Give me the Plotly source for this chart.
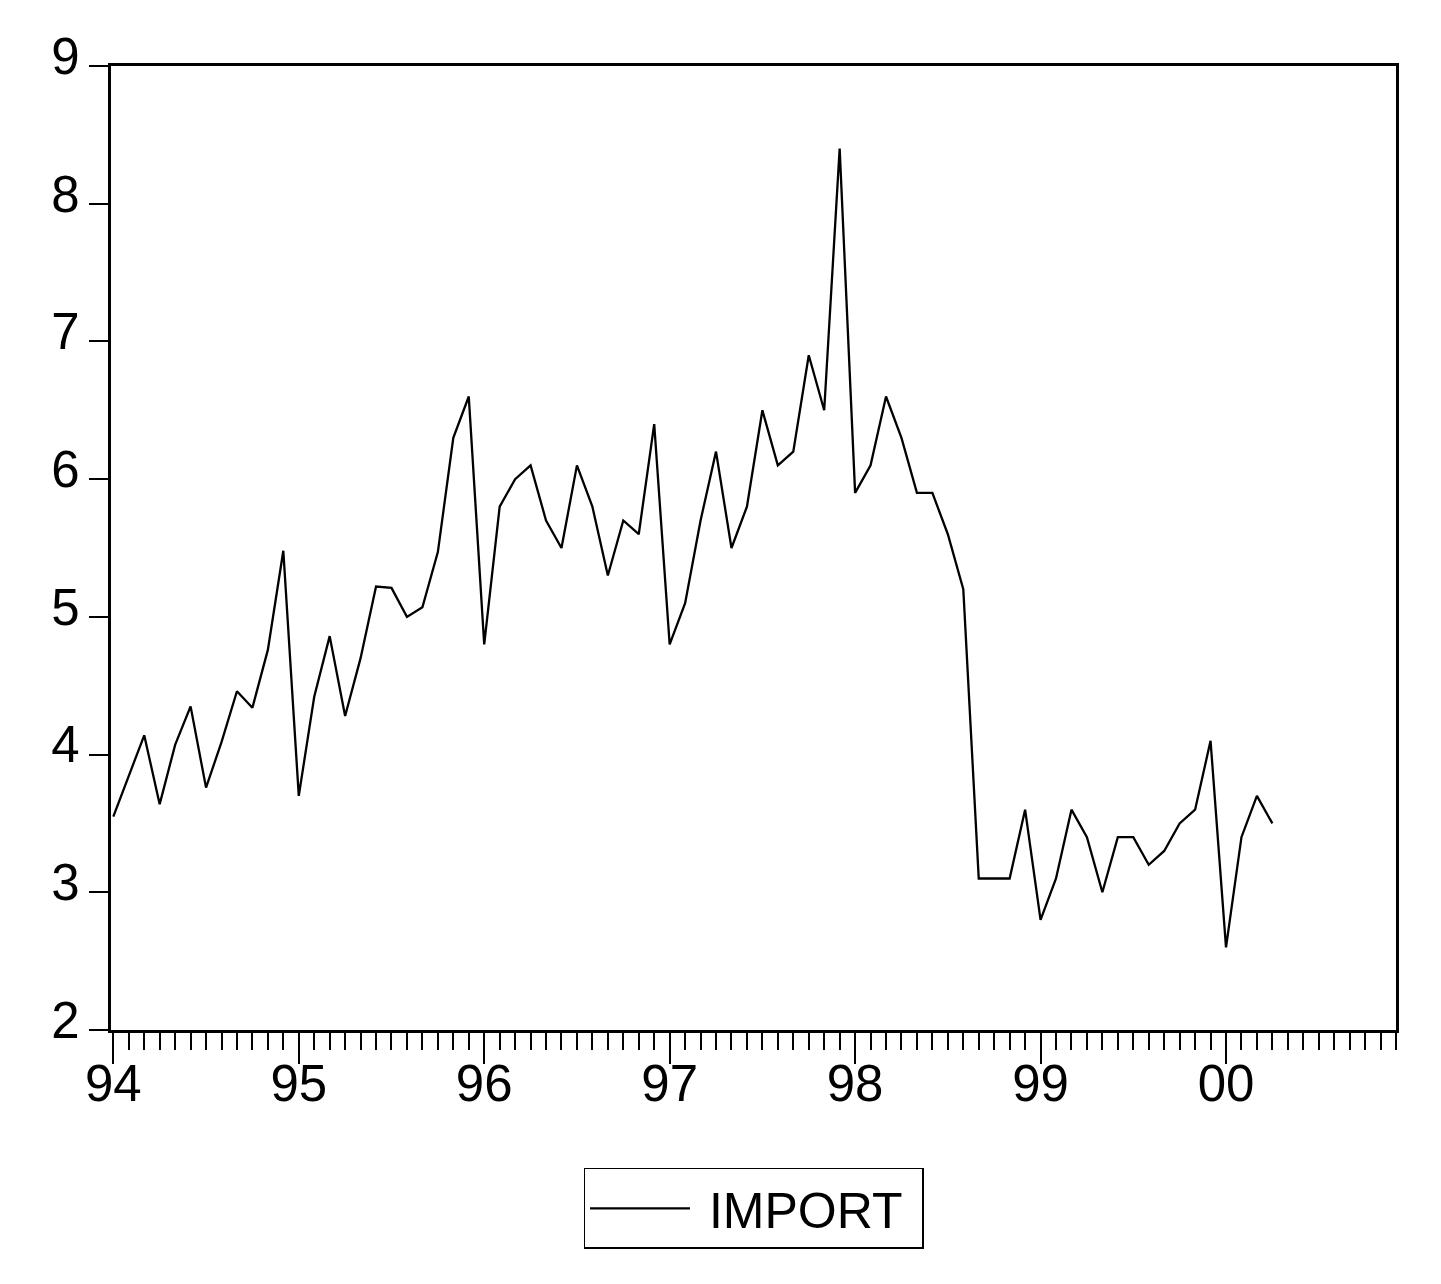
import pandas as pd
import plotly.graph_objects as go

# Monthly IMPORT series, Jan 1994 .. Apr 2000
start_month = "1994-01"
import_values = [
    3.55, 3.85, 4.14, 3.64, 4.07, 4.35, 3.76, 4.09, 4.46, 4.34, 4.76, 5.48,   # 1994
    3.70, 4.42, 4.86, 4.28, 4.70, 5.22, 5.21, 5.00, 5.07, 5.47, 6.30, 6.60,   # 1995
    4.80, 5.80, 6.00, 6.10, 5.70, 5.50, 6.10, 5.80, 5.30, 5.70, 5.60, 6.40,   # 1996
    4.80, 5.10, 5.70, 6.20, 5.50, 5.80, 6.50, 6.10, 6.20, 6.90, 6.50, 8.40,   # 1997
    5.90, 6.10, 6.60, 6.30, 5.90, 5.90, 5.60, 5.20, 3.10, 3.10, 3.10, 3.60,   # 1998
    2.80, 3.10, 3.60, 3.40, 3.00, 3.40, 3.40, 3.20, 3.30, 3.50, 3.60, 4.10,   # 1999
    2.60, 3.40, 3.70, 3.50,                                                   # 2000
]
year_labels = ["94", "95", "96", "97", "98", "99", "00"]
y_ticks = [2, 3, 4, 5, 6, 7, 8, 9]
series_name = "IMPORT"

periods = pd.period_range(start_month, periods=len(import_values), freq="M")
base = periods[0]
x_index = [(p - base).n for p in periods]
year_tick_pos = [12 * i for i in range(len(year_labels))]

FONT = "Liberation Sans, Arial, sans-serif"
NBSP = "\u00a0"

fig = go.Figure()
fig.add_trace(go.Scatter(
    x=x_index, y=import_values, mode="lines",
    name=NBSP + series_name + NBSP,
    line=dict(color="black", width=2.3),
))

fig.update_layout(
    width=1425, height=1268,
    margin=dict(l=103, r=37, t=58, b=246, pad=0),
    paper_bgcolor="white", plot_bgcolor="white",
    font=dict(family=FONT, size=50, color="black"),
    showlegend=True,
    legend=dict(
        x=0.5, xanchor="center", y=-0.143, yanchor="top",
        bordercolor="black", borderwidth=1.5,
        font=dict(family=FONT, size=50, color="black"),
        itemwidth=100,
    ),
    xaxis=dict(
        range=[-0.15, 83],
        tickmode="array", tickvals=year_tick_pos, ticktext=year_labels,
        ticks="outside", ticklen=31, tickwidth=1.6, tickcolor="black",
        minor=dict(ticks="outside", ticklen=17, tickwidth=1.6, tickcolor="black",
                   tickmode="linear", tick0=0, dtick=1, showgrid=False),
        showgrid=False, zeroline=False,
        showline=True, mirror=True, linewidth=3.4, linecolor="black",
        tickfont=dict(family=FONT, size=51, color="black"),
        ticklabelstandoff=-24,
    ),
    yaxis=dict(
        range=[2, 9],
        tickmode="array", tickvals=y_ticks, ticktext=[str(v) for v in y_ticks],
        ticks="outside", ticklen=19, tickwidth=1.6, tickcolor="black",
        showgrid=False, zeroline=False,
        showline=True, mirror=True, linewidth=3.4, linecolor="black",
        tickfont=dict(family=FONT, size=51, color="black"),
        ticklabelshift=-10, ticklabelstandoff=-1,
    ),
)

fig.write_html("out.html")
